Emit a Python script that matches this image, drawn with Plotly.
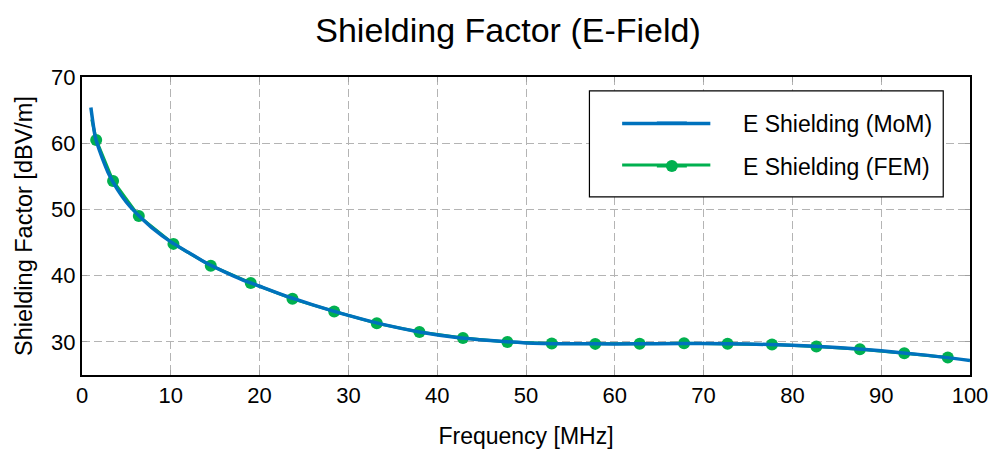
import plotly.graph_objects as go

# MoM curve
mom_freq = [1, 1.5, 2, 2.5, 3, 4, 5, 6, 7, 8, 10, 12, 14, 16, 18, 20, 23, 26, 30,
            34, 38, 42, 46, 50, 55, 60, 65, 70, 75, 80, 85, 90, 95, 100]
mom_val = [65.4, 60.9, 58.8, 57.0, 55.4, 53.0, 51.1, 49.6, 48.3, 47.1, 45.1, 43.5,
           41.9, 40.6, 39.4, 38.4, 36.9, 35.6, 34.0, 32.6, 31.5, 30.7, 30.2, 29.85,
           29.72, 29.7, 29.72, 29.75, 29.68, 29.5, 29.15, 28.65, 28.0, 27.2]

# FEM samples (markers)
fem_freq = [1.1, 1.6, 3.5, 6.4, 10.3, 14.5, 19.0, 23.7, 28.4, 33.2, 38.0, 42.9, 47.9,
            52.9, 57.8, 62.8, 67.8, 72.7, 77.7, 82.7, 87.6, 92.6, 97.5]
fem_val = [63.6, 60.5, 54.3, 49.0, 44.8, 41.5, 38.9, 36.5, 34.6, 32.8, 31.5, 30.6,
           30.0, 29.75, 29.7, 29.72, 29.78, 29.72, 29.6, 29.3, 28.9, 28.3, 27.65]

x_ticks = [0, 10, 20, 30, 40, 50, 60, 70, 80, 90, 100]
y_ticks = [30, 40, 50, 60, 70]

BLUE = "#0072BD"
GREEN = "#00B04F"
FONT = "Liberation Sans, Arial, sans-serif"
PAD = "\u00a0" * 8

# layout geometry (pixels)
W, H = 1000, 457
ML, MR, MT, MB = 82, 22, 77, 79
PW, PH = W - ML - MR, H - MT - MB


def px(xp):
    return (xp - ML) / PW


def py(yp):
    return (H - MB - yp) / PH


fig = go.Figure()
# leading FEM segment without marker
fig.add_trace(go.Scatter(x=fem_freq[:2], y=fem_val[:2], mode="lines",
                         line=dict(color=GREEN, width=3), showlegend=False,
                         hoverinfo="skip"))
fig.add_trace(go.Scatter(x=fem_freq[1:], y=fem_val[1:], mode="lines+markers",
                         name=PAD + "E Shielding (FEM)", legendrank=2, legendgroup="fem",
                         line=dict(color=GREEN, width=3),
                         marker=dict(color=GREEN, size=12)))
fig.add_trace(go.Scatter(x=mom_freq, y=mom_val, mode="lines",
                         name=PAD + "E Shielding (MoM)", legendrank=1, legendgroup="mom",
                         line=dict(color=BLUE, width=3.5, shape="spline", smoothing=0.6)))

axis_common = dict(showline=True, linecolor="black", linewidth=2, mirror="ticks",
                   ticks="inside", ticklen=5, tickcolor="#a0a0a0", tickwidth=1,
                   showgrid=True, gridcolor="#b4b4b4", gridwidth=1, griddash="8px,4px",
                   zeroline=False, tickfont=dict(size=22, color="black", family=FONT))

fig.update_xaxes(range=[0, 100], tickvals=x_ticks, ticktext=[str(v) for v in x_ticks],
                 title=dict(text="Frequency [MHz]", font=dict(size=23, family=FONT, color="black"),
                            standoff=20),
                 **axis_common)
fig.update_yaxes(range=[25, 70], tickvals=y_ticks, ticktext=[str(v) for v in y_ticks],
                 title=dict(text="Shielding Factor [dBV/m]", font=dict(size=23.5, family=FONT, color="black"),
                            standoff=12),
                 **axis_common)

# legend frame and long sample lines (decoration)
shapes = [
    dict(type="rect", xref="paper", yref="paper", x0=px(594), x1=px(951), y0=py(198), y1=py(91),
         fillcolor="white", line=dict(color="black", width=1.2), layer="above"),
    dict(type="line", xref="paper", yref="paper", x0=px(627), x1=px(716), y0=py(124), y1=py(124),
         line=dict(color=BLUE, width=3.5), layer="above"),
    dict(type="line", xref="paper", yref="paper", x0=px(627), x1=px(716), y0=py(166), y1=py(166),
         line=dict(color=GREEN, width=3), layer="above"),
]

fig.update_layout(
    width=W, height=H,
    margin=dict(l=ML, r=MR, t=MT, b=MB),
    paper_bgcolor="white", plot_bgcolor="white",
    title=dict(text="Shielding Factor (E-Field)", x=0.508, xanchor="center", y=0.935,
               yanchor="middle", font=dict(size=34, family=FONT, color="black")),
    font=dict(family=FONT, color="black"),
    showlegend=True,
    shapes=shapes,
    legend=dict(x=px(657), y=py(102), xanchor="left", yanchor="top",
                bgcolor="rgba(0,0,0,0)", borderwidth=0,
                font=dict(size=23, family=FONT, color="black"),
                tracegroupgap=10, itemwidth=30),
)

fig.write_html("out.html")
